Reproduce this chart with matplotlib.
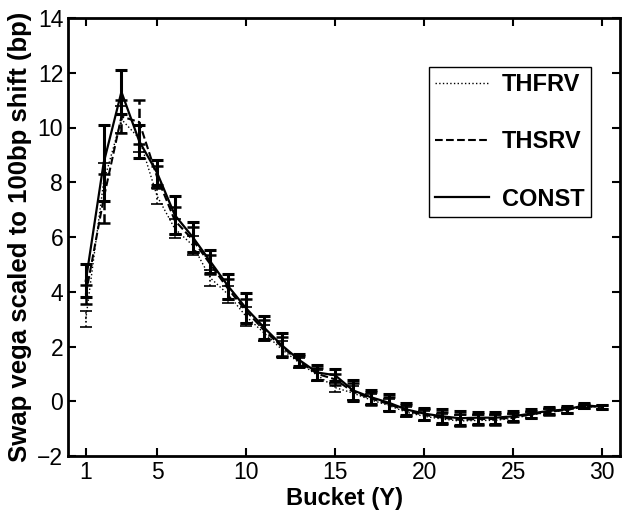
import matplotlib
matplotlib.use("Agg")
import matplotlib.pyplot as plt
import numpy as np

plt.rcParams['font.family'] = ['Liberation Sans', 'DejaVu Sans']

# bucket maturities (years)
buckets = list(range(1, 31))

thfrv = [3.0, 8.0, 10.3, 9.6, 7.5, 6.3, 5.7, 4.5, 3.9, 3.1, 2.5, 1.9, 1.4, 0.95, 0.5,
         0.3, 0.05, -0.15, -0.4, -0.55, -0.65, -0.72, -0.7, -0.7, -0.62, -0.5, -0.4, -0.33, -0.2, -0.22]
thfrv_err = [0.3, 0.7, 0.5, 0.5, 0.3, 0.35, 0.35, 0.3, 0.3, 0.35, 0.3, 0.3, 0.18, 0.2, 0.18,
             0.25, 0.2, 0.22, 0.18, 0.18, 0.2, 0.2, 0.18, 0.18, 0.15, 0.12, 0.1, 0.09, 0.07, 0.06]

thsrv = [3.9, 7.4, 10.4, 10.2, 8.2, 6.6, 5.9, 5.0, 4.1, 3.3, 2.6, 2.0, 1.45, 1.0, 0.8,
         0.35, 0.1, -0.1, -0.35, -0.5, -0.6, -0.68, -0.65, -0.65, -0.6, -0.48, -0.38, -0.32, -0.18, -0.2]
thsrv_err = [0.35, 0.9, 0.6, 0.8, 0.4, 0.5, 0.45, 0.35, 0.35, 0.45, 0.35, 0.35, 0.2, 0.22, 0.2,
             0.3, 0.22, 0.25, 0.2, 0.2, 0.22, 0.22, 0.2, 0.2, 0.16, 0.13, 0.12, 0.1, 0.08, 0.07]

const = [4.4, 8.7, 11.3, 9.5, 8.35, 6.8, 6.0, 5.1, 4.2, 3.4, 2.7, 2.05, 1.5, 1.05, 0.95,
         0.4, 0.15, -0.05, -0.3, -0.45, -0.55, -0.62, -0.6, -0.6, -0.55, -0.45, -0.35, -0.3, -0.15, -0.2]
const_err = [0.6, 1.4, 0.8, 0.6, 0.45, 0.7, 0.55, 0.42, 0.45, 0.55, 0.42, 0.45, 0.22, 0.27, 0.22,
             0.38, 0.26, 0.3, 0.22, 0.22, 0.25, 0.26, 0.22, 0.22, 0.18, 0.15, 0.13, 0.12, 0.1, 0.08]

x_ticks = [1, 5, 10, 15, 20, 25, 30]
y_ticks = list(range(-2, 15, 2))

fig = plt.figure(figsize=(6.25, 5.14), dpi=100)
ax = fig.add_axes([68 / 625, 58 / 514, 552 / 625, 438 / 514])

series = [
    ("THFRV", thfrv, thfrv_err, ':', 1.0, 1.2),
    ("THSRV", thsrv, thsrv_err, '--', 1.5, 1.8),
    ("CONST", const, const_err, '-', 1.6, 2.2),
]

handles = []
for name, vals, errs, ls, lw, elw in series:
    eb = ax.errorbar(buckets, vals, yerr=errs, color='k', linestyle=ls, linewidth=lw,
                     elinewidth=elw, capsize=4.5, capthick=elw, label=name)
    eb[2][0].set_linestyle(ls)
    handles.append(eb[0])

ax.set_xlim(0, 31)
ax.set_ylim(-2, 14)
ax.set_xticks(x_ticks)
ax.set_yticks(y_ticks)
ax.tick_params(direction='in', length=6, width=1.5, top=True, right=True, labelsize=16.5)
for sp in ax.spines.values():
    sp.set_linewidth(2)

ax.set_xlabel('Bucket (Y)', fontsize=17, fontweight='bold', labelpad=2)
ax.set_ylabel('Swap vega scaled to 100bp shift (bp)', fontsize=18.5, fontweight='bold', labelpad=4)

leg = ax.legend(handles=handles, labels=[s[0] for s in series],
                loc='upper right', bbox_to_anchor=(591 / 625, (514 - 67) / 514),
                bbox_transform=fig.transFigure, frameon=True, fancybox=False,
                edgecolor='k', framealpha=1, borderaxespad=0, borderpad=0.26,
                labelspacing=1.45, handlelength=2.3, handletextpad=0.55,
                prop={'size': 17, 'weight': 'bold'})
leg.get_frame().set_linewidth(1.0)

fig.savefig('out.png', dpi=100)
